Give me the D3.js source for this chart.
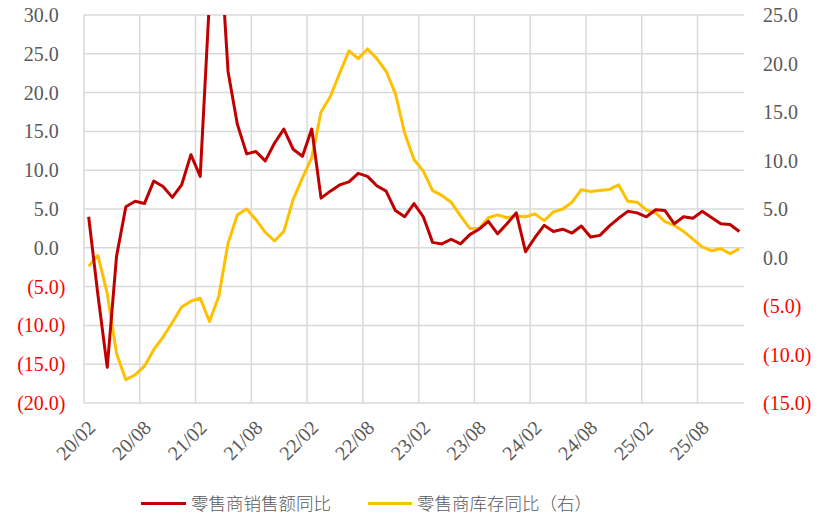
<!DOCTYPE html>
<html>
<head>
<meta charset="utf-8">
<script src="https://cdn.jsdelivr.net/npm/d3@7/dist/d3.min.js"></script>
<style>
  html, body { margin: 0; padding: 0; background: #fff; }
  svg { display: block; }
</style>
</head>
<body>
<svg id="chart" width="819" height="519"></svg>
<script>
// Monthly categories, 2020/02 – 2025/12
const months = [
  "20/02","20/03","20/04","20/05","20/06","20/07","20/08","20/09","20/10","20/11","20/12",
  "21/01","21/02","21/03","21/04","21/05","21/06","21/07","21/08","21/09","21/10","21/11","21/12",
  "22/01","22/02","22/03","22/04","22/05","22/06","22/07","22/08","22/09","22/10","22/11","22/12",
  "23/01","23/02","23/03","23/04","23/05","23/06","23/07","23/08","23/09","23/10","23/11","23/12",
  "24/01","24/02","24/03","24/04","24/05","24/06","24/07","24/08","24/09","24/10","24/11","24/12",
  "25/01","25/02","25/03","25/04","25/05","25/06","25/07","25/08","25/09","25/10","25/11","25/12"
];

// 零售商销售额同比 (left axis, %)
const salesYoY = [
  4.0, -6.1, -15.4, -1.1, 5.3, 6.0, 5.7, 8.6, 7.9, 6.5,
  8.1, 12.0, 9.2, 32.0, 42.0, 22.7, 15.9, 12.1, 12.4, 11.2,
  13.5, 15.3, 12.7, 11.8, 15.3, 6.4, 7.3, 8.1, 8.5, 9.6,
  9.2, 8.0, 7.3, 4.8, 4.0, 5.7, 4.0, 0.7, 0.5, 1.1,
  0.5, 1.7, 2.4, 3.4, 1.8, 3.1, 4.5, -0.5, 1.3, 2.9,
  2.1, 2.4, 1.9, 2.8, 1.4, 1.6, 2.8, 3.8, 4.7, 4.5,
  4.0, 4.9, 4.8, 3.1, 4.0, 3.8, 4.7, 3.9, 3.1, 3.0, 2.1
];

// 零售商库存同比 (right axis, %)
const inventoryYoY = [
  -0.9, 0.2, -3.7, -9.9, -12.6, -12.1, -11.2, -9.5, -8.2, -6.7,
  -5.1, -4.5, -4.2, -6.6, -4.0, 1.5, 4.4, 5.0, 3.9, 2.6,
  1.7, 2.7, 6.0, 8.2, 10.3, 15.0, 16.6, 19.0, 21.3, 20.5,
  21.5, 20.5, 19.2, 16.9, 12.8, 10.1, 8.9, 6.9, 6.4, 5.7,
  4.3, 3.0, 3.0, 4.1, 4.4, 4.1, 4.3, 4.2, 4.5, 3.8,
  4.7, 5.0, 5.7, 7.0, 6.8, 6.9, 7.0, 7.5, 5.8, 5.7,
  4.9, 4.6, 3.7, 3.3, 2.7, 1.9, 1.1, 0.7, 0.9, 0.4, 0.9
];

const leftTicks = [30, 25, 20, 15, 10, 5, 0, -5, -10, -15, -20];
const rightTicks = [25, 20, 15, 10, 5, 0, -5, -10, -15];
const xLabelEvery = 6;

const seriesNames = ["零售商销售额同比", "零售商库存同比（右）"];
const seriesColors = ["#C00000", "#FFC000"];

// Layout
const plot = { left: 84, right: 744, top: 15, bottom: 403 };
const svg = d3.select("#chart");

const x = d3.scaleBand().domain(months).range([plot.left, plot.right]).paddingInner(0).paddingOuter(0);
const yL = d3.scaleLinear().domain([-20, 30]).range([plot.bottom, plot.top]);
const yR = d3.scaleLinear().domain([-15, 25]).range([plot.bottom, plot.top]);
const cx = d => x(d) + x.bandwidth() / 2;

const fmt = v => v < 0 ? "(" + Math.abs(v).toFixed(1) + ")" : v.toFixed(1);
const tickFont = "'Liberation Serif', 'Times New Roman', serif";
const gridColor = "#D9D9D9";
const textGray = "#595959";

// Horizontal gridlines from the left axis
const gL = svg.append("g");
gL.selectAll("line.h").data(leftTicks).join("line")
  .attr("x1", plot.left).attr("x2", plot.right)
  .attr("y1", d => yL(d)).attr("y2", d => yL(d))
  .attr("stroke", gridColor).attr("stroke-width", 1.5);

// Vertical gridlines at category boundaries every 6 months
const vIdx = d3.range(0, months.length, xLabelEvery);
gL.selectAll("line.v").data(vIdx).join("line")
  .attr("x1", i => x(months[i])).attr("x2", i => x(months[i]))
  .attr("y1", plot.top).attr("y2", plot.bottom)
  .attr("stroke", gridColor).attr("stroke-width", 1.5);

// Left axis labels
const parenW = 6.7;
svg.append("g").selectAll("text").data(leftTicks).join("text")
  .attr("x", d => d < 0 ? 65.5 : 65.5 - parenW)
  .attr("y", d => yL(d))
  .attr("dy", "0.35em")
  .attr("text-anchor", "end")
  .attr("font-family", tickFont).attr("font-size", 20)
  .attr("fill", d => d < 0 ? "#FF0000" : textGray)
  .text(fmt);

// Right axis labels
svg.append("g").selectAll("text").data(rightTicks).join("text")
  .attr("x", 763)
  .attr("y", d => yR(d))
  .attr("dy", "0.35em")
  .attr("text-anchor", "start")
  .attr("font-family", tickFont).attr("font-size", 20)
  .attr("fill", d => d < 0 ? "#FF0000" : textGray)
  .text(fmt);

// Category labels, rotated
svg.append("g").selectAll("text").data(vIdx).join("text")
  .attr("transform", i => `translate(${cx(months[i]) + 3},${plot.bottom + 21}) rotate(-45)`)
  .attr("dy", "0.35em")
  .attr("text-anchor", "end")
  .attr("font-family", tickFont).attr("font-size", 20)
  .attr("fill", textGray)
  .text(i => months[i]);

// Lines, clipped to the plot area
svg.append("clipPath").attr("id", "plotClip")
  .append("rect")
  .attr("x", plot.left - 5).attr("y", plot.top)
  .attr("width", plot.right - plot.left + 10).attr("height", plot.bottom - plot.top + 5);

const lines = svg.append("g").attr("clip-path", "url(#plotClip)");

const lineL = d3.line().x((d, i) => cx(months[i])).y(d => yL(d));
const lineR = d3.line().x((d, i) => cx(months[i])).y(d => yR(d));

lines.append("path").datum(inventoryYoY)
  .attr("d", lineR).attr("fill", "none")
  .attr("stroke", seriesColors[1]).attr("stroke-width", 3)
  .attr("stroke-linejoin", "round");

lines.append("path").datum(salesYoY)
  .attr("d", lineL).attr("fill", "none")
  .attr("stroke", seriesColors[0]).attr("stroke-width", 3)
  .attr("stroke-linejoin", "round");

// Legend
const legendY = 503.5;
const legendItems = [
  { x1: 141, x2: 186, tx: 191, name: seriesNames[0], color: seriesColors[0] },
  { x1: 368, x2: 412, tx: 417, name: seriesNames[1], color: seriesColors[1] }
];
const lg = svg.append("g");
lg.selectAll("line").data(legendItems).join("line")
  .attr("x1", d => d.x1).attr("x2", d => d.x2)
  .attr("y1", legendY).attr("y2", legendY)
  .attr("stroke", d => d.color).attr("stroke-width", 3);
lg.selectAll("text").data(legendItems).join("text")
  .attr("x", d => d.tx).attr("y", legendY)
  .attr("dy", "0.36em")
  .attr("font-family", "'Noto Sans CJK SC', sans-serif")
  .attr("font-size", 17.5)
  .attr("font-weight", 300)
  .attr("fill", textGray)
  .text(d => d.name);
</script>
</body>
</html>
